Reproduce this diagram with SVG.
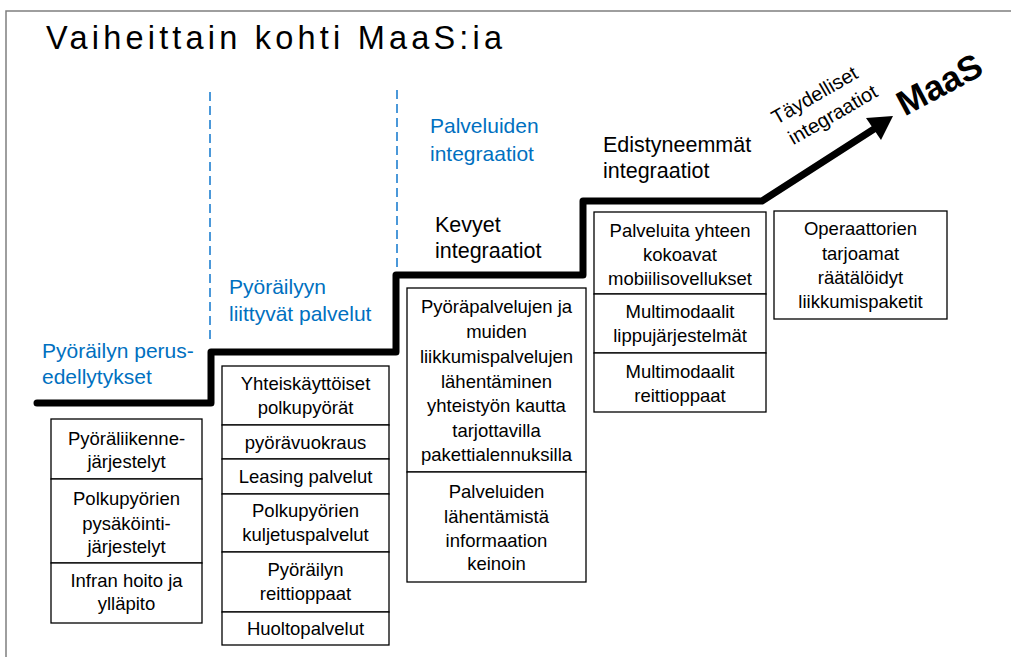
<svg xmlns="http://www.w3.org/2000/svg" width="1011" height="657" viewBox="0 0 1011 657">
<style>
  .bx{fill:#fff;stroke:#000;stroke-width:1.3}
  .t{font-family:"Liberation Sans",Arial,sans-serif;font-size:18.5px;fill:#000;text-anchor:middle}
  .blue{font-family:"Liberation Sans",Arial,sans-serif;font-size:21px;fill:#0070C0}
  .blk{font-family:"Liberation Sans",Arial,sans-serif;font-size:21.5px;fill:#000}
  .dash{stroke:#1f7fd0;stroke-width:1.6;stroke-dasharray:9 5;fill:none}
</style>
<rect width="1011" height="657" fill="#fff"/>
<path d="M6,657 L6,11 L1011,11" fill="none" stroke="#7f7f7f" stroke-width="1.5"/>
<text x="46" y="49" font-family="'Liberation Sans',Arial,sans-serif" font-size="32.5" letter-spacing="4.2" fill="#000">Vaiheittain kohti MaaS:ia</text>

<g id="dividers">
  <line class="dash" x1="210" y1="92" x2="210" y2="342"/>
  <line class="dash" x1="397" y1="90" x2="397" y2="270"/>
</g>

<g id="connectors">
  <path d="M37,403 L211,403 L211,352 L396,352 L396,275 L583,275 L583,201 L762,201 L874,129" fill="none" stroke="#000" stroke-width="7" stroke-linejoin="round" stroke-linecap="round"/>
  <polygon points="893,116 881,140 866,118" fill="#000"/>
</g>

<g id="labels">
  <text class="blue" x="42" y="358">Pyöräilyn perus-</text>
  <text class="blue" x="42" y="384">edellytykset</text>
  <text class="blue" x="229" y="294">Pyöräilyyn</text>
  <text class="blue" x="229" y="321">liittyvät palvelut</text>
  <text class="blue" x="430" y="133">Palveluiden</text>
  <text class="blue" x="430" y="161">integraatiot</text>
  <text class="blk" x="435" y="232">Kevyet</text>
  <text class="blk" x="435" y="258">integraatiot</text>
  <text class="blk" x="603" y="152">Edistyneemmät</text>
  <text class="blk" x="603" y="178">integraatiot</text>
  <g transform="translate(818,101) rotate(-30)">
    <text x="0" y="0" font-family="'Liberation Sans',Arial,sans-serif" font-size="20" text-anchor="middle">Täydelliset</text>
    <text x="6" y="26" font-family="'Liberation Sans',Arial,sans-serif" font-size="20" text-anchor="middle">integraatiot</text>
  </g>
  <text transform="translate(945,95) rotate(-28)" font-family="'Liberation Sans',Arial,sans-serif" font-size="35" font-weight="bold" text-anchor="middle">MaaS</text>
</g>

<g id="col1">
  <rect class="bx" x="51" y="419" width="151" height="60"/>
  <rect class="bx" x="51" y="479" width="151" height="84"/>
  <rect class="bx" x="51" y="563" width="151" height="60"/>
  <text class="t" x="126.5" y="445">Pyöräliikenne-</text>
  <text class="t" x="126.5" y="468">järjestelyt</text>
  <text class="t" x="126.5" y="505">Polkupyörien</text>
  <text class="t" x="126.5" y="530">pysäköinti-</text>
  <text class="t" x="126.5" y="553">järjestelyt</text>
  <text class="t" x="126.5" y="587">Infran hoito ja</text>
  <text class="t" x="126.5" y="610">ylläpito</text>
</g>

<g id="col2">
  <rect class="bx" x="222" y="366" width="167" height="59"/>
  <rect class="bx" x="222" y="425" width="167" height="34"/>
  <rect class="bx" x="222" y="459" width="167" height="35"/>
  <rect class="bx" x="222" y="494" width="167" height="58"/>
  <rect class="bx" x="222" y="552" width="167" height="60"/>
  <rect class="bx" x="222" y="612" width="167" height="33"/>
  <text class="t" x="305.5" y="390">Yhteiskäyttöiset</text>
  <text class="t" x="305.5" y="414">polkupyörät</text>
  <text class="t" x="305.5" y="449">pyörävuokraus</text>
  <text class="t" x="305.5" y="483">Leasing palvelut</text>
  <text class="t" x="305.5" y="517">Polkupyörien</text>
  <text class="t" x="305.5" y="541">kuljetuspalvelut</text>
  <text class="t" x="305.5" y="576">Pyöräilyn</text>
  <text class="t" x="305.5" y="600">reittioppaat</text>
  <text class="t" x="305.5" y="635">Huoltopalvelut</text>
</g>

<g id="col3">
  <rect class="bx" x="407" y="288" width="179" height="184"/>
  <rect class="bx" x="407" y="472" width="179" height="110"/>
  <text class="t" x="496.5" y="313">Pyöräpalvelujen ja</text>
  <text class="t" x="496.5" y="338">muiden</text>
  <text class="t" x="496.5" y="363">liikkumispalvelujen</text>
  <text class="t" x="496.5" y="388">lähentäminen</text>
  <text class="t" x="496.5" y="412">yhteistyön kautta</text>
  <text class="t" x="496.5" y="437">tarjottavilla</text>
  <text class="t" x="496.5" y="461">pakettialennuksilla</text>
  <text class="t" x="496.5" y="498">Palveluiden</text>
  <text class="t" x="496.5" y="523">lähentämistä</text>
  <text class="t" x="496.5" y="547">informaation</text>
  <text class="t" x="496.5" y="570">keinoin</text>
</g>

<g id="col4">
  <rect class="bx" x="594" y="212" width="172" height="82"/>
  <rect class="bx" x="594" y="294" width="172" height="59"/>
  <rect class="bx" x="594" y="353" width="172" height="59"/>
  <text class="t" x="680" y="237">Palveluita yhteen</text>
  <text class="t" x="680" y="261">kokoavat</text>
  <text class="t" x="680" y="285">mobiilisovellukset</text>
  <text class="t" x="680" y="318">Multimodaalit</text>
  <text class="t" x="680" y="342">lippujärjestelmät</text>
  <text class="t" x="680" y="378">Multimodaalit</text>
  <text class="t" x="680" y="402">reittioppaat</text>
</g>

<g id="col5">
  <rect class="bx" x="774" y="211" width="173" height="108"/>
  <text class="t" x="860.5" y="235">Operaattorien</text>
  <text class="t" x="860.5" y="260">tarjoamat</text>
  <text class="t" x="860.5" y="284">räätälöidyt</text>
  <text class="t" x="860.5" y="308">liikkumispaketit</text>
</g>
</svg>
